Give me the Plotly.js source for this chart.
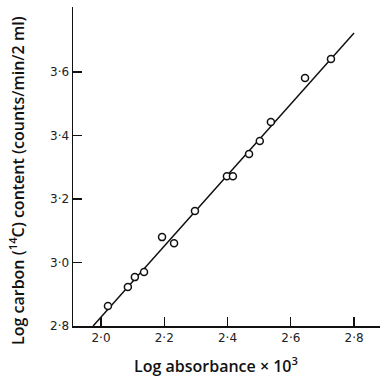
<!DOCTYPE html>
<html><head><meta charset="utf-8">
<script src="https://cdn.plot.ly/plotly-3.0.1.min.js"></script>
<style>body{margin:0;background:#fff}#c{width:380px;height:379px}</style>
</head><body><div id="c"></div>
<script>
const logAbsorbance = [2.022, 2.085, 2.107, 2.136, 2.193, 2.231, 2.297, 2.398, 2.417, 2.468, 2.502, 2.537, 2.645, 2.727];
const logCarbon = [2.863, 2.923, 2.954, 2.970, 3.080, 3.061, 3.162, 3.272, 3.272, 3.342, 3.383, 3.443, 3.581, 3.641];
const fitX = [1.975, 2.8];
const fitY = [2.8, 3.723];
const xTickVals = [2.0, 2.2, 2.4, 2.6, 2.8];
const xTickText = ['2·0', '2·2', '2·4', '2·6', '2·8'];
const yTickVals = [2.8, 3.0, 3.2, 3.4, 3.6];
const yTickText = ['2·8', '3·0', '3·2', '3·4', '3·6'];

const traces = [
  {x: fitX, y: fitY, mode: 'lines', line: {color: '#111', width: 1.5}, hoverinfo: 'skip'},
  {x: logAbsorbance, y: logCarbon, mode: 'markers',
   marker: {symbol: 'circle', size: 7, color: '#fff', line: {color: '#111', width: 1.5}}}
];
const tickFont = {family: 'DejaVu Sans, sans-serif', size: 12, color: '#222'};
const titleFont = {family: 'Open Sans, sans-serif', size: 16, color: '#111', weight: 600};
const layout = {
  width: 380, height: 379,
  margin: {l: 73, r: 0, t: 7, b: 53},
  showlegend: false,
  paper_bgcolor: '#fff', plot_bgcolor: '#fff',
  xaxis: {range: [1.9115, 2.882], tickvals: xTickVals, ticktext: xTickText,
    ticks: 'inside', ticklen: 9, tickwidth: 1.3, tickcolor: '#111',
    showline: true, linecolor: '#111', linewidth: 1.5, showgrid: false, zeroline: false,
    tickfont: tickFont, fixedrange: true},
  yaxis: {range: [2.8, 3.805], tickvals: yTickVals, ticktext: yTickText,
    ticks: 'inside', ticklen: 9, tickwidth: 1.3, tickcolor: '#111',
    showline: true, linecolor: '#111', linewidth: 1.5, showgrid: false, zeroline: false,
    tickfont: tickFont, fixedrange: true},
  annotations: [
    {text: 'Log absorbance × 10<sup>3</sup>', xref: 'paper', yref: 'paper', x: 0.465, y: -0.122,
     xanchor: 'center', yanchor: 'middle', showarrow: false, font: titleFont},
    {text: 'Log carbon (<sup>14</sup>C) content (counts/min/2 ml)', xref: 'paper', yref: 'paper',
     x: -0.182, y: 0.455, xanchor: 'center', yanchor: 'middle', textangle: -90, showarrow: false,
     font: titleFont}
  ]
};
Plotly.newPlot('c', traces, layout, {displayModeBar: false, staticPlot: true});
</script></body></html>
